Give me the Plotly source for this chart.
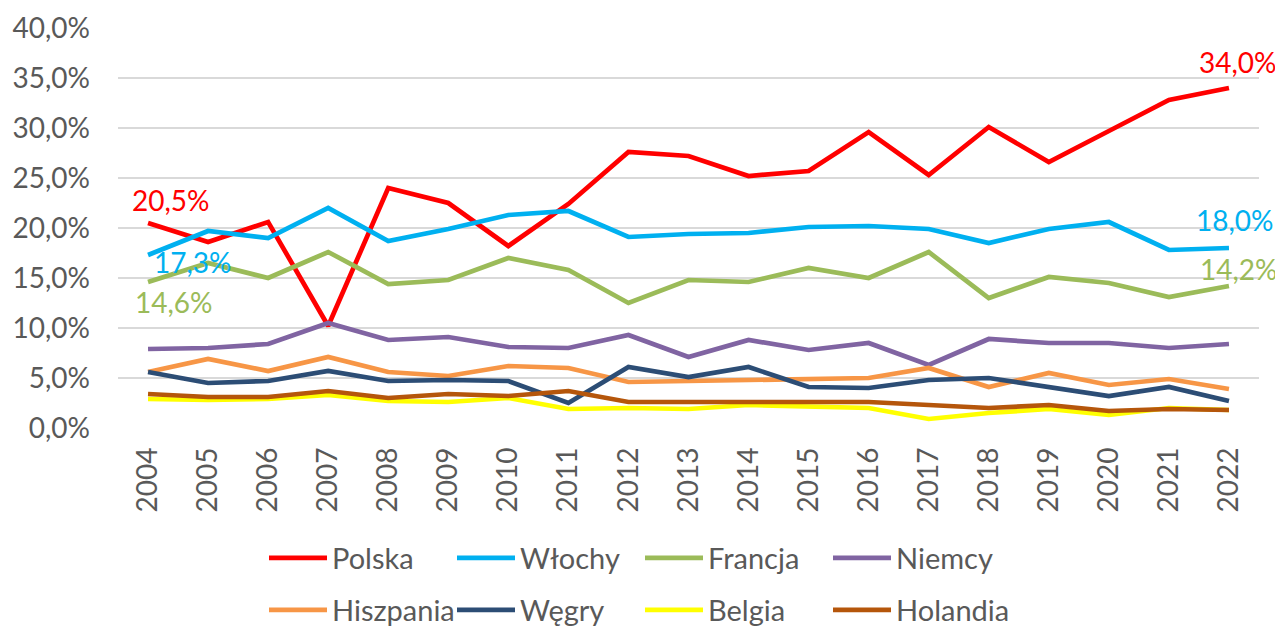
import plotly.graph_objects as go

years = [str(y) for y in range(2004, 2023)]

polska    = [20.5, 18.6, 20.6, 10.2, 24.0, 22.5, 18.2, 22.4, 27.6, 27.2, 25.2, 25.7, 29.6, 25.3, 30.1, 26.6, 29.7, 32.8, 34.0]
wlochy    = [17.3, 19.7, 19.0, 22.0, 18.7, 19.9, 21.3, 21.7, 19.1, 19.4, 19.5, 20.1, 20.2, 19.9, 18.5, 19.9, 20.6, 17.8, 18.0]
francja   = [14.6, 16.5, 15.0, 17.6, 14.4, 14.8, 17.0, 15.8, 12.5, 14.8, 14.6, 16.0, 15.0, 17.6, 13.0, 15.1, 14.5, 13.1, 14.2]
niemcy    = [7.9, 8.0, 8.4, 10.5, 8.8, 9.1, 8.1, 8.0, 9.3, 7.1, 8.8, 7.8, 8.5, 6.3, 8.9, 8.5, 8.5, 8.0, 8.4]
hiszpania = [5.6, 6.9, 5.7, 7.1, 5.6, 5.2, 6.2, 6.0, 4.6, 4.7, 4.8, 4.8, 5.0, 6.0, 4.1, 5.5, 4.3, 4.9, 3.9]
wegry     = [5.6, 4.5, 4.7, 5.7, 4.7, 4.8, 4.7, 2.5, 6.1, 5.1, 6.1, 4.1, 4.0, 4.8, 5.0, 4.1, 3.2, 4.1, 2.7]
belgia    = [2.9, 2.8, 2.9, 3.3, 2.7, 2.6, 3.0, 1.9, 2.0, 1.9, 2.3, 2.1, 2.0, 0.9, 1.5, 1.9, 1.3, 2.0, 1.8]
holandia  = [3.4, 3.1, 3.1, 3.7, 3.0, 3.4, 3.2, 3.7, 2.6, 2.6, 2.7, 2.6, 2.6, 2.3, 2.0, 2.3, 1.7, 1.9, 1.8]

y_ticks = [0, 5, 10, 15, 20, 25, 30, 35, 40]
y_tick_labels = ["0,0%", "5,0%", "10,0%", "15,0%", "20,0%", "25,0%", "30,0%", "35,0%", "40,0%"]

series = [
    ("Polska", polska, "#FF0000", "legend"),
    ("Włochy", wlochy, "#00B0F0", "legend"),
    ("Francja", francja, "#9BBB59", "legend"),
    ("Niemcy", niemcy, "#8064A2", "legend"),
    ("Hiszpania", hiszpania, "#F79646", "legend2"),
    ("Węgry", wegry, "#2C4D75", "legend2"),
    ("Belgia", belgia, "#FFFF00", "legend2"),
    ("Holandia", holandia, "#B5560B", "legend2"),
]

FONT = "Lato, Open Sans, sans-serif"
GREY = "#595959"

W, H = 1275, 620   # page body has an 8px default margin

fig = go.Figure()
for name, vals, col, lg in series:
    fig.add_trace(go.Scatter(x=years, y=vals, name=name, mode="lines",
                             line=dict(color=col, width=4.7), legend=lg))

def fmt(v):
    return f"{v:.1f}".replace(".", ",") + "%"

first, last = 0, len(years) - 1
labels = [
    (first, polska[first], "#FF0000", 23, 23),
    (first, wlochy[first], "#00B0F0", 45, -7),
    (first, francja[first], "#9BBB59", 26, -20),
    (last, polska[last], "#FF0000", 9, 26),
    (last, wlochy[last], "#00B0F0", 6, 28),
    (last, francja[last], "#9BBB59", 10, 17),
]
for xi, y, col, dx, dy in labels:
    fig.add_annotation(x=xi, y=y, xref="x", yref="y", text=fmt(y), showarrow=False,
                       xshift=dx, yshift=dy,
                       font=dict(family=FONT, size=28, color=col))

legend_common = dict(orientation="h", font=dict(family=FONT, size=29, color=GREY),
                     entrywidth=115, entrywidthmode="pixels", itemwidth=58,
                     xref="container", yref="container", xanchor="left", yanchor="middle",
                     bgcolor="rgba(0,0,0,0)", tracegroupgap=0)

fig.update_layout(
    width=W, height=H,
    margin=dict(l=110, r=24, t=20, b=200, autoexpand=False),
    paper_bgcolor="white", plot_bgcolor="white",
    font=dict(family=FONT, color=GREY),
    showlegend=True,
    legend=dict(x=256 / W, y=1 - 550 / H, **legend_common),
    legend2=dict(x=256 / W, y=1 - 602 / H, **legend_common),
    xaxis=dict(type="category", range=[-0.5, 18.5], tickangle=-90,
               tickfont=dict(family=FONT, size=28, color=GREY),
               showgrid=False, showline=False, ticks="", ticklabelstandoff=13),
    yaxis=dict(range=[0, 40], tickvals=y_ticks, ticktext=y_tick_labels,
               tickfont=dict(family=FONT, size=28, color=GREY),
               showgrid=True, gridcolor="#D9D9D9", gridwidth=1.5,
               zeroline=False, showline=False, ticks="", ticklabelstandoff=27),
)

fig.write_html("out.html")
